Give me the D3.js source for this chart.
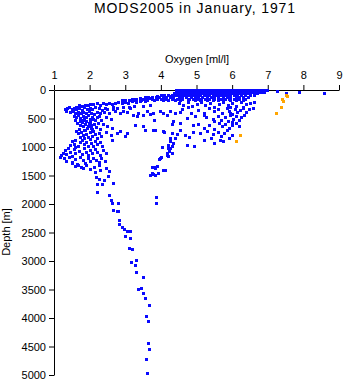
<!DOCTYPE html>
<html>
<head>
<meta charset="utf-8">
<script src="https://cdn.jsdelivr.net/npm/d3@7"></script>
<style>
  body { margin: 0; background: #fff; }
  svg { display: block; font-family: "Liberation Sans", Arial, sans-serif; }
</style>
</head>
<body>
<svg id="chart" width="345" height="384"></svg>
<script>
// Dissolved oxygen profiles, MODS2005, January 1971
const title = "MODS2005 in January, 1971";
const xLabel = "Oxygen [ml/l]";
const yLabel = "Depth [m]";
const xTicks = [1, 2, 3, 4, 5, 6, 7, 8, 9];
const yTicks = [0, 500, 1000, 1500, 2000, 2500, 3000, 3500, 4000, 4500, 5000];

// Near-surface samples: one oxygen list per depth level (m)
const surfaceDepths = [0, 30, 60, 90, 120, 150, 180];
const surfaceOxygen = [
  [4.42, 4.5, 4.58, 4.66, 4.73, 4.81, 4.88, 4.96, 5.04, 5.11, 5.19, 5.27, 5.34, 5.41, 5.49, 5.57, 5.64, 5.72, 5.79, 5.87, 5.94, 6.02, 6.1, 6.17, 6.24, 6.32, 6.4, 6.47, 6.55, 6.62, 6.7, 6.77, 6.85, 6.92, 6.99],
  [4.45, 4.53, 4.6, 4.69, 4.76, 4.84, 4.91, 4.99, 5.07, 5.14, 5.22, 5.3, 5.37, 5.45, 5.52, 5.6, 5.68, 5.75, 5.83, 5.9, 5.98, 6.05, 6.13, 6.2, 6.28, 6.36, 6.43, 6.51, 6.58, 6.66, 6.73, 6.81, 6.9],
  [4.38, 4.46, 4.55, 4.62, 4.7, 4.78, 4.86, 4.93, 5.01, 5.09, 5.16, 5.24, 5.31, 5.39, 5.47, 5.55, 5.62, 5.7, 5.78, 5.85, 5.93, 6.0, 6.08, 6.15, 6.23, 6.3, 6.38, 6.46, 6.6, 6.7],
  [4.0, 4.1, 4.2, 4.3, 4.4, 4.48, 4.56, 4.64, 4.72, 4.8, 4.88, 4.95, 5.03, 5.1, 5.2, 5.28, 5.36, 5.45, 5.55, 5.62, 5.7, 5.78, 5.86, 5.95, 6.05, 6.15, 6.25, 6.35, 6.5, 6.6],
  [3.55, 3.65, 3.75, 3.85, 3.95, 4.05, 4.15, 4.25, 4.35, 4.5, 4.6, 4.7, 4.85, 4.95, 5.05, 5.15, 5.3, 5.4, 5.5, 5.6, 5.75, 5.85, 5.95, 6.1, 6.2, 6.3, 6.45],
  [3.2, 3.3, 3.4, 3.5, 3.62, 3.75, 3.9, 4.0, 4.12, 4.3, 4.45, 4.6, 4.8, 4.9, 5.0, 5.12, 5.25, 5.35, 5.5, 5.7, 5.8, 5.9, 6.05, 6.2, 6.35],
  [2.9, 3.0, 3.1, 3.25, 3.45, 3.6, 3.8, 4.05, 4.2, 4.4, 4.55, 4.75, 4.95, 5.1, 5.3, 5.45, 5.6, 5.75, 5.95, 6.1, 6.3]
];

// [oxygen ml/l, depth m]
const oxyclineBand = [
  [1.62, 290], [1.7, 270], [1.78, 280], [1.86, 255], [1.95, 262], [2.02, 240], [2.1, 250], [2.2, 235], [2.28, 255], [2.38, 232], [2.45, 245],
  [2.55, 222], [2.62, 240], [2.72, 228], [2.8, 212], [2.9, 230], [3.0, 205], [3.08, 222], [3.18, 195], [3.3, 210], [3.42, 185], [3.55, 200],
  [1.3, 340], [1.36, 320], [1.42, 305], [1.5, 330], [1.55, 312], [1.63, 338], [1.7, 318], [1.78, 345], [1.85, 305], [1.92, 330], [2.0, 315],
  [2.08, 340], [2.15, 300], [2.25, 322], [2.35, 345], [2.42, 310], [2.5, 330], [2.65, 300], [2.78, 318], [2.95, 290], [3.1, 305], [3.25, 280],
  [3.5, 275], [3.7, 260], [3.88, 109], [4.07, 120], [4.26, 97], [3.42, 137], [3.56, 167], [3.7, 137], [3.28, 155], [3.13, 179]
];

const lowOxygenCore = [
  [1.35, 375], [1.45, 390], [1.52, 370], [1.6, 395], [1.68, 380], [1.75, 410], [1.82, 385], [1.9, 405], [1.98, 375], [2.05, 398], [2.12, 420],
  [2.2, 385], [2.3, 405], [2.4, 380], [2.55, 395], [2.7, 370], [2.85, 410], [3.05, 385], [3.35, 395], [3.6, 370],
  [1.55, 450], [1.62, 470], [1.68, 445], [1.74, 490], [1.8, 460], [1.85, 510], [1.9, 475], [1.96, 445], [2.02, 500], [2.08, 465], [2.14, 530],
  [2.2, 480], [2.27, 455], [2.33, 520], [1.72, 540], [1.9, 545], [2.0, 555], [2.1, 505], [2.45, 470], [2.6, 500], [1.6, 520], [1.82, 530],
  [1.65, 580], [1.72, 610], [1.78, 570], [1.82, 640], [1.88, 600], [1.93, 665], [1.98, 585], [2.03, 620], [2.08, 690], [2.12, 600], [2.18, 650],
  [2.24, 575], [2.28, 680], [1.7, 680], [1.85, 700], [1.95, 630], [2.05, 660], [2.38, 600], [2.5, 640],
  [1.62, 720], [1.68, 760], [1.75, 735], [1.8, 790], [1.86, 710], [1.9, 770], [1.96, 830], [2.0, 745], [2.06, 800], [2.1, 725], [2.15, 780],
  [2.2, 840], [2.25, 760], [2.32, 810], [1.72, 820], [1.84, 845], [2.45, 740], [2.6, 790],
  [1.45, 960], [1.5, 900], [1.55, 940], [1.6, 880], [1.66, 985], [1.72, 920], [1.78, 870], [1.84, 950], [1.9, 905], [1.95, 990], [2.0, 860],
  [2.05, 935], [2.1, 975], [2.15, 890], [2.2, 950], [2.28, 920], [2.35, 980], [1.58, 1000],
  [1.2, 1140], [1.25, 1100], [1.3, 1060], [1.35, 1120], [1.4, 1020], [1.45, 1080], [1.5, 1150], [1.55, 1040], [1.6, 1110], [1.7, 1070],
  [1.78, 1130], [1.85, 1010], [1.9, 1090], [1.96, 1145], [2.02, 1050], [2.08, 1110], [2.14, 1030], [2.2, 1080], [2.28, 1135], [2.38, 1060], [2.45, 1100],
  [1.17, 1175], [1.28, 1200], [1.35, 1240], [1.42, 1180], [1.5, 1260], [1.58, 1210], [1.65, 1290], [1.72, 1170], [1.8, 1230], [1.88, 1280],
  [1.95, 1195], [2.02, 1250], [2.1, 1185], [2.18, 1230], [2.25, 1270], [2.32, 1200], [2.42, 1245],
  [1.6, 1330], [1.75, 1350], [1.9, 1320], [2.0, 1380], [2.12, 1345], [2.25, 1310], [2.3, 1400], [2.45, 1360], [2.15, 1430], [2.55, 1420],
  [1.81, 1366], [1.68, 1308], [1.5, 1279], [2.18, 1525], [2.27, 1554], [2.51, 1501]
];

const midWater = [
  [2.67, 342], [2.85, 400], [2.95, 372], [3.13, 313], [3.23, 430], [3.32, 460], [3.51, 430], [3.7, 413], [3.98, 372], [4.17, 430], [4.35, 548],
  [4.54, 576], [4.73, 488], [2.62, 664], [2.85, 723], [3.04, 752], [2.99, 811], [3.28, 606], [3.51, 635], [3.56, 694], [3.84, 694], [4.07, 723],
  [4.31, 752], [4.54, 694], [4.68, 781], [2.62, 869], [2.76, 752], [3.79, 400], [3.81, 530], [4.07, 400], [4.26, 372], [4.4, 400], [4.55, 390],
  [4.75, 300], [4.85, 410], [4.3, 600], [3.78, 694], [4.1, 740], [4.45, 770], [4.26, 834], [4.73, 957], [4.26, 899]
];

const upperSlope = [
  [4.5, 230], [4.62, 260], [4.75, 215], [4.88, 280], [5.0, 240], [5.12, 210], [5.25, 265], [5.38, 225], [5.5, 290], [5.62, 240], [5.75, 205],
  [5.88, 270], [6.0, 230], [6.12, 285], [6.25, 215], [6.38, 250], [6.5, 225], [6.6, 205], [5.95, 300], [6.3, 300],
  [4.6, 330], [5.05, 350], [5.2, 410], [5.35, 320], [5.48, 370], [5.6, 340], [5.72, 400], [5.85, 315], [5.92, 360], [6.0, 420], [6.08, 330],
  [6.15, 390], [6.22, 350], [6.3, 320], [6.4, 380], [6.48, 340], [6.58, 310], [5.95, 395],
  [4.95, 460], [5.2, 440], [5.28, 480], [5.45, 500], [5.6, 450], [5.7, 530], [5.8, 470], [5.88, 545], [5.95, 440], [6.02, 500], [6.1, 460],
  [6.18, 530], [6.25, 480], [6.33, 445], [5.5, 545], [6.0, 560],
  [4.9, 620], [5.05, 590], [5.2, 660], [5.35, 610], [5.5, 690], [5.62, 580], [5.72, 640], [5.8, 600], [5.9, 670], [6.0, 620], [6.1, 585],
  [6.2, 640],
  [4.9, 730], [5.1, 760], [5.3, 720], [5.45, 780], [5.6, 730], [5.7, 810], [5.78, 760], [5.85, 710], [5.92, 850], [6.0, 790], [5.65, 870],
  [5.4, 840], [5.2, 880], [4.8, 820], [4.93, 980], [5.5, 930], [5.75, 900]
];

const intermediateBranch = [
  [4.4, 839], [4.35, 927], [4.31, 987], [4.21, 1015], [4.24, 1075], [4.17, 1133], [4.01, 1180], [3.95, 1208], [4.03, 998], [4.21, 957],
  [4.26, 1015], [4.17, 1103], [4.21, 1162], [4.31, 1103], [3.98, 1191], [3.88, 1338], [3.84, 1349], [4.12, 1408], [3.75, 1343], [3.84, 1361],
  [3.75, 1449], [3.84, 1484], [3.92, 1449], [4.07, 1396], [3.7, 1484], [3.79, 1472], [3.87, 1875], [3.87, 1981]
];

const deepProfile = [
  [2.2, 1654], [2.41, 1584], [2.34, 1647], [2.65, 1630], [2.2, 1788], [2.55, 1840], [2.6, 1928], [2.64, 1981], [2.79, 1981], [2.65, 2098],
  [2.76, 2121], [2.81, 2121], [2.83, 2279], [2.83, 2344], [2.92, 2402], [2.97, 2437], [3.04, 2480], [3.14, 2467], [2.99, 2555], [3.14, 2595],
  [3.1, 2771], [3.19, 2789], [3.31, 2982], [3.17, 3024], [3.28, 3070], [3.31, 3199], [3.51, 3280], [3.37, 3491], [3.44, 3473], [3.51, 3561],
  [3.56, 3647], [3.67, 3767], [3.58, 3960], [3.65, 4048], [3.65, 4439], [3.66, 4539], [3.59, 4727], [3.62, 4966]
];

const surfaceOutliers = [[7.27, 20], [7.52, 50], [7.89, 32], [8.57, 50]];

// Samples flagged by quality control
const flagged = [[7.52, 84], [7.55, 109], [7.41, 155], [7.42, 197], [7.38, 295], [7.22, 395], [6.23, 794], [6.12, 899]];

const blue = "#0a0aff";
const orange = "#ffa500";

const svg = d3.select("#chart");
const x = d3.scaleLinear().domain([1, 9]).range([54, 339]);
const y = d3.scaleLinear().domain([0, 5000]).range([90, 375]);

// Title and axis labels
svg.append("text")
  .attr("x", 195).attr("y", 13)
  .attr("text-anchor", "middle")
  .style("font-size", "14px").style("letter-spacing", "0.9px")
  .text(title);

svg.append("text")
  .attr("x", 197).attr("y", 63)
  .attr("text-anchor", "middle")
  .style("font-size", "11px")
  .text(xLabel);

svg.append("text")
  .attr("transform", "translate(10,232) rotate(-90)")
  .attr("text-anchor", "middle")
  .style("font-size", "11px")
  .text(yLabel);

// Axes
const gx = svg.append("g")
  .attr("transform", "translate(0,90)")
  .call(d3.axisTop(x).tickValues(xTicks).tickFormat(d3.format("d")).tickSize(5).tickSizeOuter(0).tickPadding(6));

const gy = svg.append("g")
  .attr("transform", "translate(54,0)")
  .call(d3.axisLeft(y).tickValues(yTicks).tickFormat(d3.format("d")).tickSize(5).tickSizeOuter(0).tickPadding(3));

[gx, gy].forEach(g => {
  g.selectAll("text").style("font-size", "11px").style("font-family", "'Liberation Sans', Arial, sans-serif").attr("fill", "#000");
  g.selectAll("line, path").attr("stroke", "#000");
});

// Collect blue samples
const surfacePoints = surfaceDepths.flatMap((d, i) => surfaceOxygen[i].map(o => [o, d]));
const bluePoints = [].concat(surfacePoints, oxyclineBand, lowOxygenCore, midWater, upperSlope, intermediateBranch, deepProfile, surfaceOutliers);

function drawPoints(data, color) {
  svg.append("g")
    .attr("shape-rendering", "crispEdges")
    .selectAll("rect")
    .data(data)
    .join("rect")
    .attr("x", d => Math.round(x(d[0])) - 1)
    .attr("y", d => Math.round(y(d[1])) - 1)
    .attr("width", 3)
    .attr("height", 3)
    .attr("fill", color);
}

drawPoints(bluePoints, blue);
drawPoints(flagged, orange);
</script>
</body>
</html>
